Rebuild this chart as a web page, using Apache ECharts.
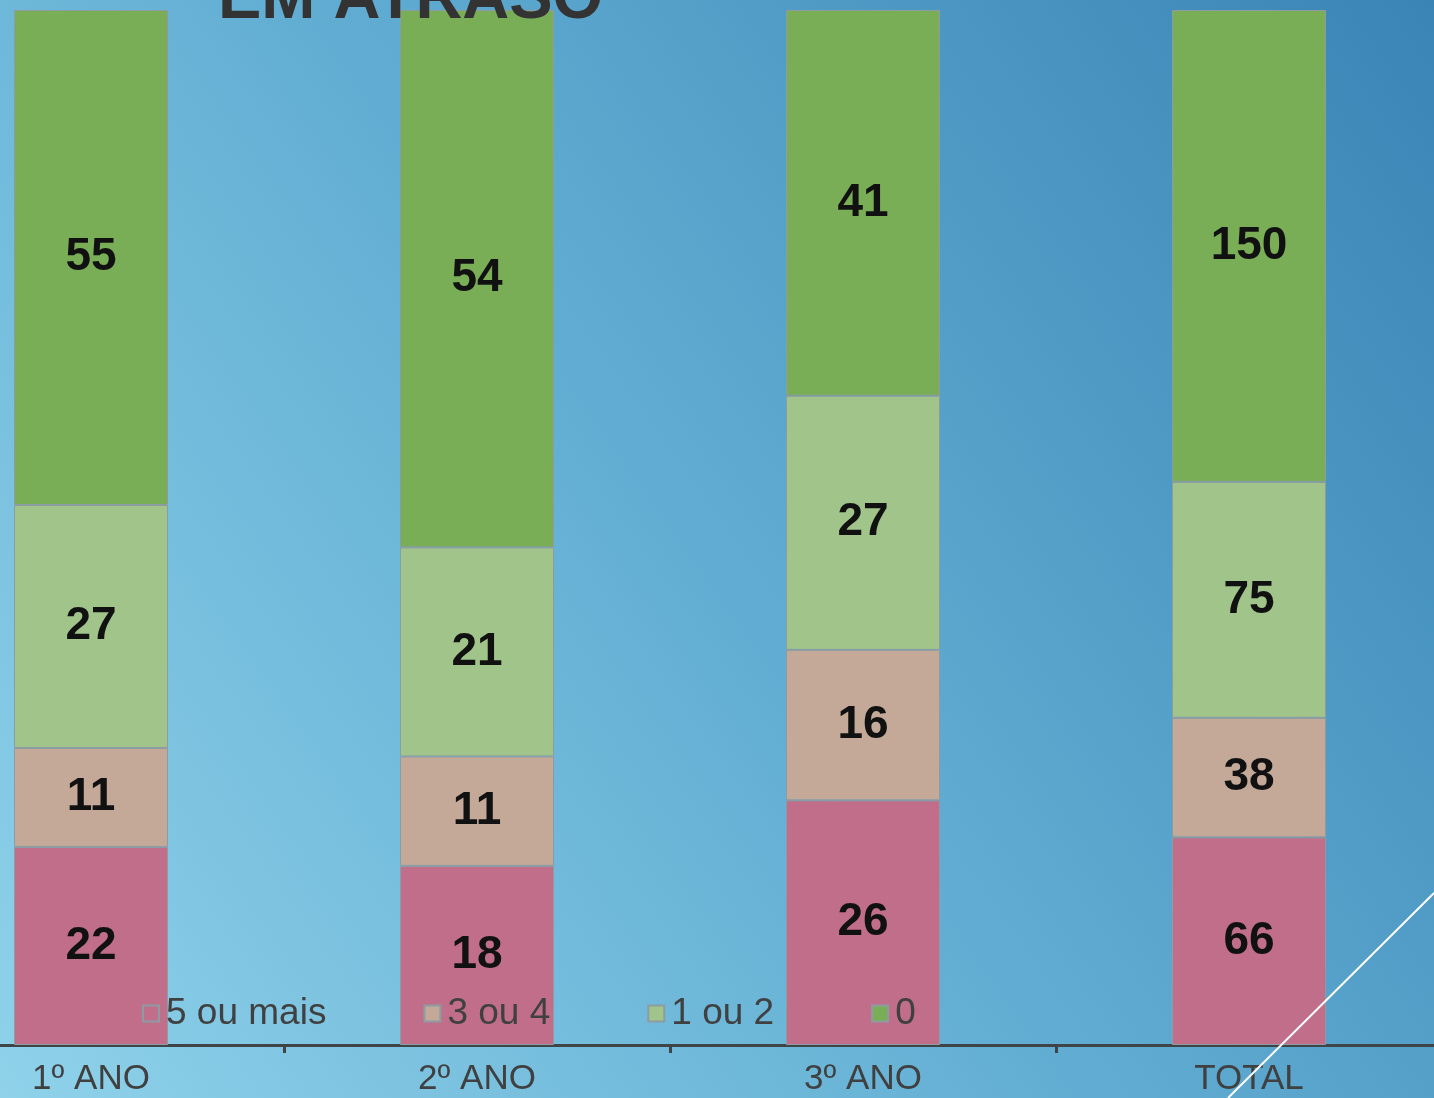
<!DOCTYPE html>
<html><head><meta charset="utf-8">
<script src="https://cdn.jsdelivr.net/npm/echarts@6/dist/echarts.min.js"></script>
<style>html,body{margin:0;padding:0;overflow:hidden;width:1434px;height:1098px;position:relative;}
#c{position:absolute;left:-102px;top:0;width:1544px;height:1098px;}</style>
</head><body><div id="c"></div>
<script>
const categories = ['1º ANO', '2º ANO', '3º ANO', 'TOTAL'];
const seriesNames = ['5 ou mais', '3 ou 4', '1 ou 2', '0'];
const s5ouMais = [22, 18, 26, 66];
const s3ou4 = [11, 11, 16, 38];
const s1ou2 = [27, 21, 27, 75];
const s0 = [55, 54, 41, 150];
const colors = ['#C06E8A', '#C4A998', '#A0C48A', '#79AE56'];

const raw = [s5ouMais, s3ou4, s1ou2, s0];
const totals = categories.map((c, i) => raw.reduce((a, s) => a + s[i], 0));
const OFF = 102; // container offset

const chart = echarts.init(document.getElementById('c'));
chart.setOption({
  backgroundColor: new echarts.graphic.LinearGradient(0, 1, 1, 0, [
    {offset: 0, color: '#93D5EC'},
    {offset: 0.5, color: '#62AED3'},
    {offset: 1, color: '#3984B5'}
  ]),
  animation: false,
  grid: {left: 0, right: 0, top: 10, bottom: 53},
  legend: {
    left: 137 + OFF, top: 990,
    itemWidth: 16, itemHeight: 16, itemGap: 97,
    icon: 'rect',
    textStyle: {fontSize: 37, color: '#404040', fontFamily: 'Liberation Sans, Arial, sans-serif', padding: [0, 0, 0, 2]},
    data: seriesNames
  },
  xAxis: {
    type: 'category', data: categories,
    axisLine: {lineStyle: {color: '#3F4447', width: 3}},
    axisTick: {show: true, length: 8, lineStyle: {color: '#3F4447', width: 3}},
    axisLabel: {fontSize: 35, color: '#404040', margin: 17, fontFamily: 'Liberation Sans, Arial, sans-serif'}
  },
  yAxis: {type: 'value', min: 0, max: 1, show: false, splitLine: {show: false}},
  series: raw.map((s, k) => ({
    name: seriesNames[k], type: 'bar', stack: 'a', barWidth: 154,
    itemStyle: {color: colors[k], borderColor: '#8C9CA2', borderWidth: 1},
    label: {
      show: true, position: 'inside',
      formatter: p => String(s[p.dataIndex]),
      fontSize: 46, fontWeight: 'bold', color: '#111',
      fontFamily: 'Liberation Sans, Arial, sans-serif'
    },
    data: s.map((v, i) => v / totals[i])
  })),
  graphic: [
    {type: 'text', left: 218 + OFF, top: -32, z: 100,
     style: {text: 'EM ATRASO', font: 'bold 65px "Liberation Sans", Arial, sans-serif', fill: '#333333'}},
    {type: 'line', z: 100, shape: {x1: 1434 + OFF, y1: 893, x2: 1228 + OFF, y2: 1098},
     style: {stroke: '#FFFFFF', lineWidth: 2}}
  ]
});
</script></body></html>
